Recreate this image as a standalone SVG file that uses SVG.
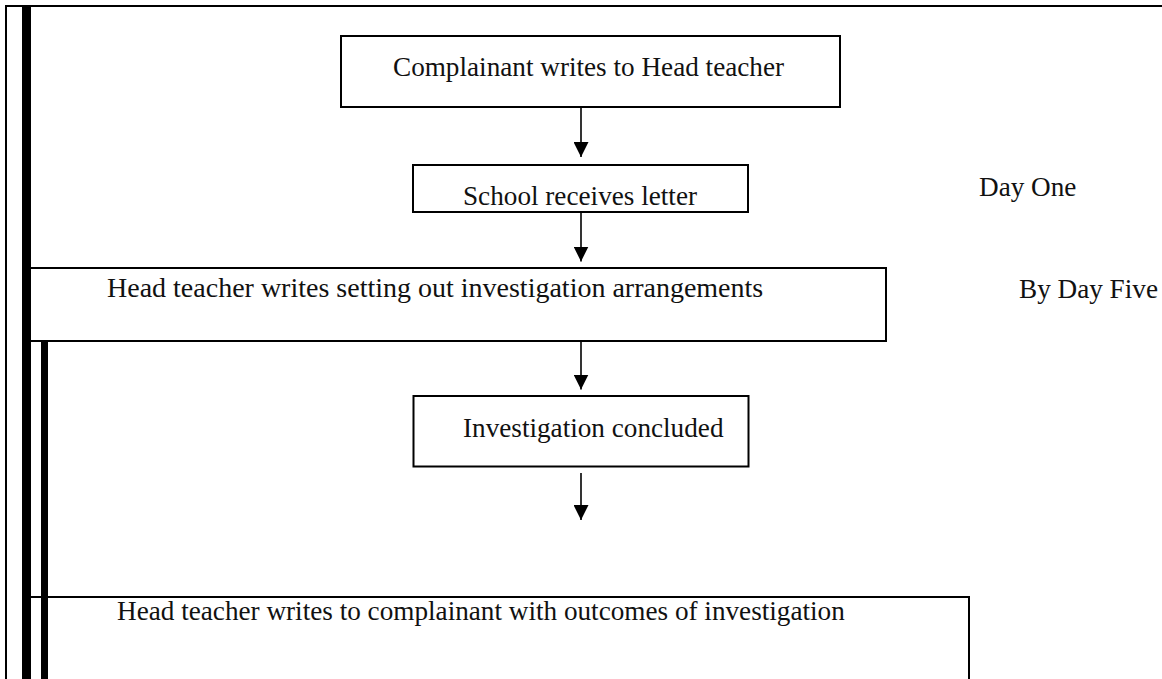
<svg xmlns="http://www.w3.org/2000/svg" width="1162" height="679" viewBox="0 0 1162 679">
<style>
  .box { fill: #fff; stroke: #000; stroke-width: 2; }
  .lbl { font-family: "Liberation Serif", "Times New Roman", serif; font-size: 27.2px; fill: #111; }
  .conn { stroke: #000; stroke-width: 1.6; fill: none; }
  .frame { stroke: #000; fill: none; }
</style>
<defs>
  <marker id="ah" viewBox="0 0 15 15" markerWidth="15" markerHeight="15" refX="15" refY="7.5" orient="auto" markerUnits="userSpaceOnUse">
    <path d="M0,0 L15,7.5 L0,15 Z" fill="#000"/>
  </marker>
</defs>
<rect width="1162" height="679" fill="#fff"/>

<g id="frame">
  <line class="frame" x1="5" y1="6" x2="1162" y2="6" stroke-width="2.2"/>
  <line class="frame" x1="6" y1="5" x2="6" y2="679" stroke-width="2"/>
</g>

<g id="node-complainant-writes">
  <rect class="box" x="341" y="36" width="499" height="71"/>
  <text class="lbl" x="393" y="76">Complainant writes to Head teacher</text>
</g>

<g id="node-school-receives">
  <rect class="box" x="413" y="165" width="335" height="47"/>
  <text class="lbl" x="463" y="205">School receives letter</text>
</g>

<g id="node-investigation-arrangements">
  <rect class="box" x="30" y="268" width="856" height="73"/>
  <text class="lbl" x="107" y="297" style="font-size:28px">Head teacher writes setting out investigation arrangements</text>
</g>

<g id="node-investigation-concluded">
  <rect class="box" x="413.5" y="396" width="335" height="70.5"/>
  <text class="lbl" x="463" y="437">Investigation concluded</text>
</g>

<g id="node-outcomes">
  <rect class="box" x="30" y="597" width="939" height="200"/>
  <text class="lbl" x="117" y="620">Head teacher writes to complainant with outcomes of investigation</text>
</g>

<g id="bars">
  <rect x="22" y="6" width="9" height="673" fill="#000"/>
  <rect x="41" y="342" width="7" height="337" fill="#000"/>
</g>

<g id="day-labels">
  <text class="lbl" x="979" y="196">Day One</text>
  <text class="lbl" x="1019" y="298">By Day Five</text>
</g>

<g id="connectors">
  <line class="conn" x1="581" y1="108" x2="581" y2="157" marker-end="url(#ah)"/>
  <line class="conn" x1="581" y1="213" x2="581" y2="261.5" marker-end="url(#ah)"/>
  <line class="conn" x1="581" y1="342" x2="581" y2="389.5" marker-end="url(#ah)"/>
  <line class="conn" x1="581" y1="473" x2="581" y2="520" marker-end="url(#ah)"/>
</g>
</svg>
